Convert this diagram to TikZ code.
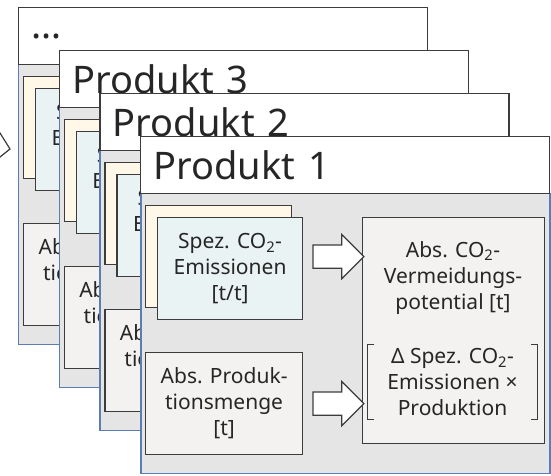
\documentclass[tikz,border=0pt]{standalone}
\usepackage{fontspec}
\setmainfont{Noto Sans}
\usetikzlibrary{positioning, calc, shapes.arrows}

\definecolor{ink}{HTML}{262626}
\definecolor{frame}{HTML}{3C3C3C}
\definecolor{cardblue}{HTML}{5B7DB4}
\definecolor{cardgray}{HTML}{E5E5E5}
\definecolor{cream}{HTML}{FFF8E8}
\definecolor{ice}{HTML}{EAF3F4}
\definecolor{stone}{HTML}{F3F2F1}

\newcommand{\weitere}{…}

\begin{document}
\begin{tikzpicture}[x=1pt,y=1pt]
  \tikzstyle{every node}=[font=\fontsize{21}{26}\selectfont, text=ink]
  \tikzstyle{card}=[draw=cardblue, fill=cardgray, line width=1.5pt, minimum width=409pt, minimum height=280pt, anchor=north west]
  \tikzstyle{titlebox}=[draw=frame, fill=white, line width=1.2pt, minimum width=409pt, minimum height=57pt, text width=383pt, inner xsep=13pt, align=left, anchor=north west, font=\fontsize{38}{44}\selectfont]
  \tikzstyle{box}=[draw=frame, line width=1.2pt, anchor=north west, align=center, inner sep=0pt]
  \tikzstyle{blockarrow}=[single arrow, draw=frame, fill=white, line width=1.2pt, minimum height=51pt, minimum width=43pt, single arrow head extend=10.5pt, inner xsep=0pt, inner ysep=11pt]

  \useasboundingbox (0,0) rectangle (551,476);

  % arrow coming in from the left
  \coordinate (zufluss) at (10,327);
  \draw[draw=frame, fill=white, line width=1.2pt] (-5,351) -- (zufluss) -- (-5,315);

  \foreach \k/\name in {3/\weitere,2/Produkt 3,1/Produkt 2,0/Produkt 1}{
    \begin{scope}[shift={(140-40.7*\k,340+43*\k)}]
      \node[card] (karte\k) at (0,-57) {};
      \node[titlebox] (titel\k) at (0,0) {\name};

      \node[box, fill=cream, minimum width=146pt, minimum height=102pt] (hinter\k) at (5,-69) {};
      \node[box, fill=ice, minimum width=145pt, minimum height=102pt] (spez\k) at (17,-81)
        {Spez. CO\textsubscript{2}-\\Emissionen\\{}[t/t]};
      \node[box, fill=stone, minimum width=157pt, minimum height=102pt] (menge\k) at (5,-216)
        {Abs. Produk-\\tionsmenge\\{}[t]};
      \node[box, fill=stone, minimum width=182pt, minimum height=226pt] (potenzial\k) at (222,-81) {};

      \node[align=center] (ergebnis\k) at (313,-142)
        {Abs. CO\textsubscript{2}-\\Vermeidungs-\\potential [t]};
      \node[align=center, minimum width=169pt, minimum height=75pt] (formel\k) at (312.5,-246)
        {Δ Spez. CO\textsubscript{2}-\\Emissionen ×\\Produktion};
      \draw[draw=frame, line width=1.2pt] ([xshift=6pt]formel\k.north west) -| (formel\k.south west) -- ++(6,0);
      \draw[draw=frame, line width=1.2pt] ([xshift=-6pt]formel\k.north east) -| (formel\k.south east) -- ++(-6,0);

      \node[blockarrow] (pfeil\k) at ($(spez\k.east)!.5!(spez\k.east-|potenzial\k.west)+(0,12)$) {};
      \node[blockarrow] (pfeilb\k) at ($(menge\k.east)!.5!(menge\k.east-|potenzial\k.west)$) {};
    \end{scope}
  }
\end{tikzpicture}
\end{document}
